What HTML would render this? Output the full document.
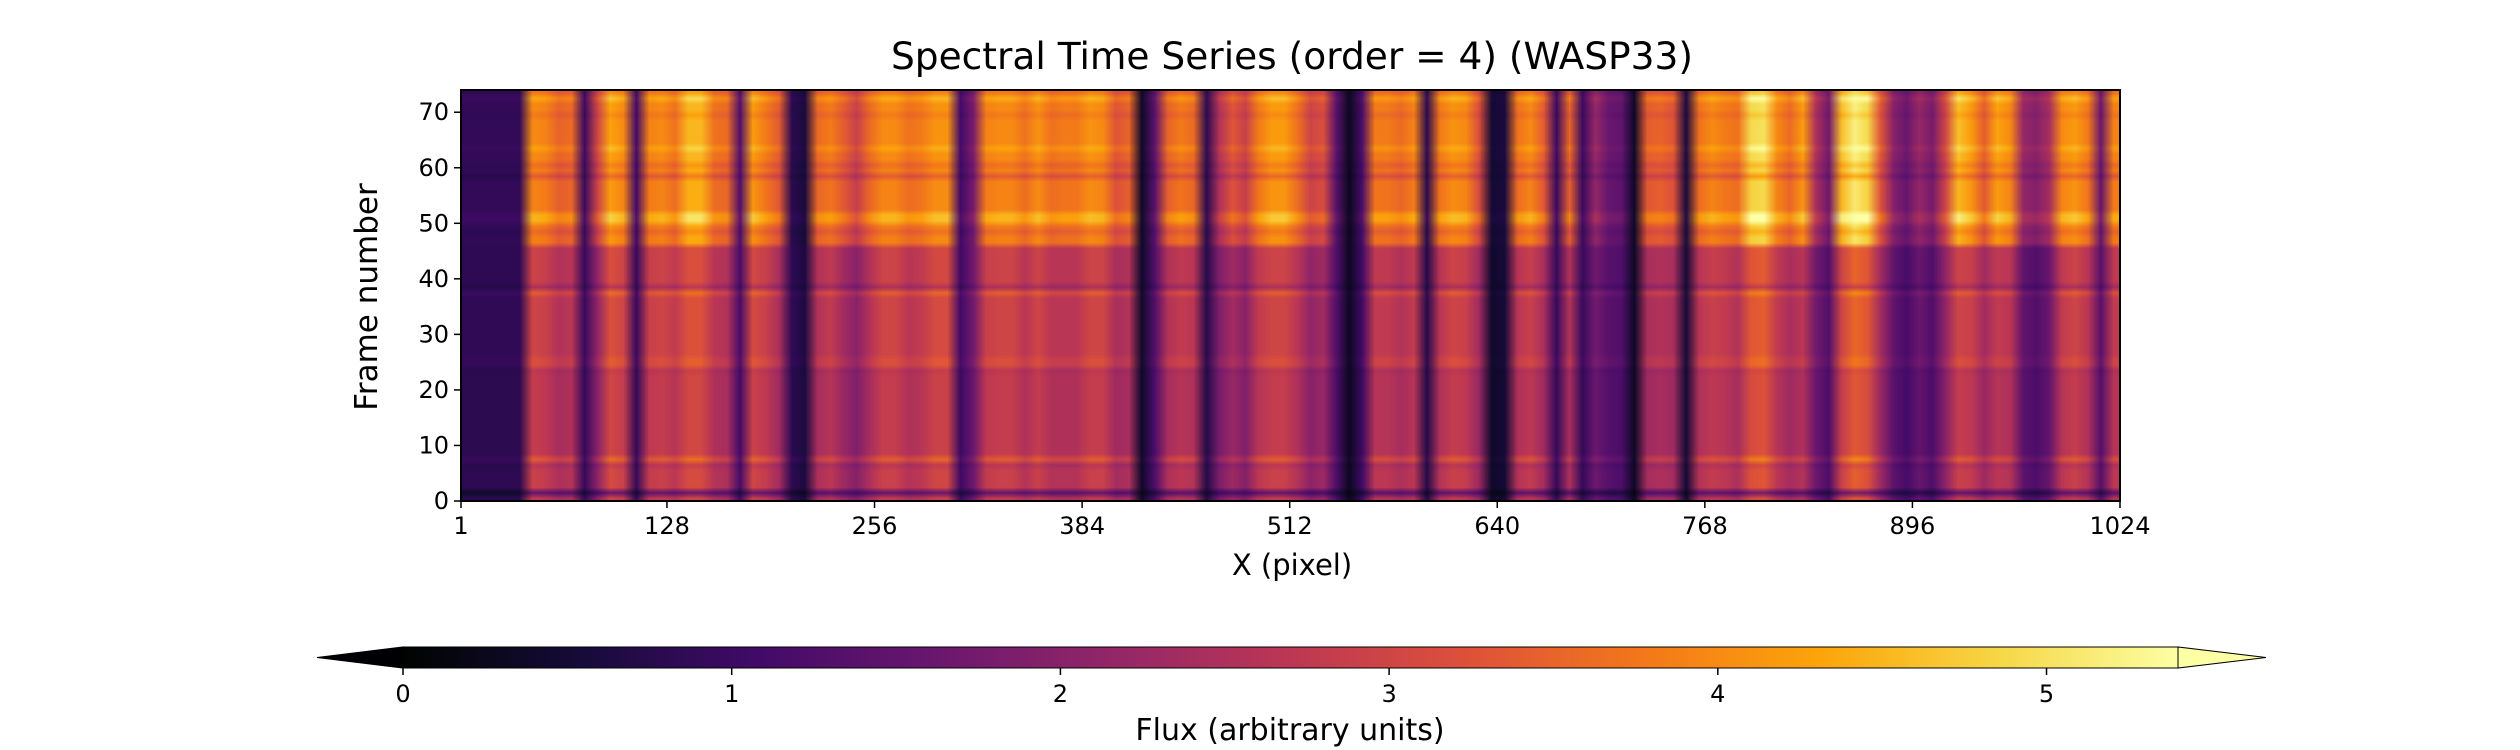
<!DOCTYPE html>
<html><head><meta charset="utf-8"><style>
body{margin:0;background:#fff;width:2520px;height:750px;overflow:hidden;font-family:"DejaVu Sans","Liberation Sans",sans-serif}
#wrap{position:relative;width:2520px;height:750px}
canvas#hm{position:absolute;left:461px;top:90px;width:1659px;height:411px}
svg{position:absolute;left:0;top:0}
</style></head><body>
<div id="wrap">
<canvas id="hm" width="128" height="74"></canvas>
<svg id="svg" width="2520" height="750">
<defs><linearGradient id="cmapgrad" x1="0" x2="1" y1="0" y2="0"></linearGradient></defs>
<text x="1292" y="69" font-size="37.5" text-anchor="middle">Spectral Time Series (order = 4) (WASP33)</text>
<text x="1292" y="575" font-size="29" text-anchor="middle">X (pixel)</text>
<text transform="translate(377,297) rotate(-90)" font-size="31" text-anchor="middle">Frame number</text>
<text x="1290" y="740" font-size="30" text-anchor="middle">Flux (arbitrary units)</text>
<g id="axes"></g>
</svg>
</div>
<script>
const fluxLow=[0.8,0.8,0.8,0.8,0.8,2.8,2.7,2.4,2.5,0.9,2.0,3.0,2.8,0.9,2.7,2.8,2.6,3.0,3.0,2.5,2.4,1.1,2.9,2.7,2.3,0.8,0.6,2.4,2.6,2.2,1.9,2.4,2.8,2.8,2.5,2.6,2.9,2.9,1.0,1.6,2.7,2.8,2.8,
2.5,2.8,2.5,2.5,2.5,2.8,2.8,2.3,2.4,0.4,1.2,2.4,2.6,2.5,0.7,1.8,2.2,1.9,2.6,2.8,2.8,2.5,2.0,2.2,1.2,0.3,1.0,2.6,2.6,2.4,2.6,0.7,2.5,2.8,2.7,2.2,0.4,0.5,2.5,2.7,2.3,0.9,2.4,
0.9,1.6,1.3,1.2,0.35,2.3,2.4,2.3,0.5,2.5,2.7,2.6,2.4,3.1,3.2,2.6,2.3,2.5,1.6,1.2,2.8,3.3,3.1,2.2,1.4,1.1,1.5,1.2,2.0,2.8,2.7,2.2,2.6,2.5,1.4,1.2,1.5,2.6,2.8,2.5,1.3,2.6];
const fluxHigh=[0.9,0.9,0.9,0.9,0.9,4.0,3.9,3.5,3.6,1.0,3.0,4.3,4.0,1.1,3.9,4.0,3.7,4.5,4.5,3.7,3.6,1.3,4.2,3.8,3.4,0.8,0.6,3.6,3.8,3.4,2.9,3.6,4.0,4.0,3.7,3.8,4.1,4.1,1.1,1.8,3.9,4.0,4.0,
3.7,4.1,3.7,3.8,3.8,4.1,4.0,3.3,3.5,0.4,1.4,3.5,3.8,3.6,0.8,2.6,3.3,2.9,3.8,4.2,4.2,3.7,3.0,3.2,1.4,0.3,1.2,3.8,3.8,3.6,3.9,0.8,3.8,4.1,4.0,3.2,0.5,0.6,3.7,4.0,3.4,1.0,3.5,
1.0,2.2,1.6,1.5,0.4,3.4,3.5,3.3,0.6,3.7,4.0,3.8,3.7,4.9,5.0,4.0,3.6,4.2,2.5,1.7,4.6,5.2,4.9,3.3,2.0,1.6,2.2,1.8,3.0,4.6,4.2,3.4,4.3,4.0,2.2,2.0,2.4,4.0,4.2,3.8,1.6,3.9];
const rowGain=[1.0,0.55,1.04,1.04,1.04,1.04,0.96,1.22,1.01,1.01,1.01,1.01,1.01,1.01,1.01,1.01,1.01,1.01,1.01,1.01,1.01,1.01,1.01,0.97,1.14,1.14,1.07,1.07,1.07,1.07,1.07,1.07,1.07,1.07,1.07,1.07,1.07,1.22,0.9,1.06,1.06,1.06,1.06,1.06,1.06,1.06,
0.97,0.97,0.9,0.97,1.12,1.12,0.98,0.98,0.98,0.98,0.98,0.98,0.85,0.98,0.92,1.0,1.0,1.08,1.0,1.0,1.0,1.0,1.0,0.95,1.0,1.0,1.1,0.95];
const highStartRow=46;
const xTicks=[1,128,256,384,512,640,768,896,1024];
const yTicks=[0,10,20,30,40,50,60,70];
const cbTicks=[0,1,2,3,4,5];
const vmin=0,vmax=5.4,nPix=1024,nRows=74;

const PL=461,PR=2120,PT=90,PB=501;
const xScale=p=>PL+(p-1)/(nPix-1)*(PR-PL);
const yScale=v=>PB-v/nRows*(PB-PT);
const CBL=403,CBR=2178,CBT=647,CBB=668;
const cbScale=v=>CBL+(v-vmin)/(vmax-vmin)*(CBR-CBL);

const stops=[[0,4,0],[22,11,57],[66,10,104],[106,23,110],[147,38,103],[188,55,84],[221,81,58],[243,120,25],[252,165,10],[246,215,70],[252,255,164]];
function inferno(t){t=Math.max(0,Math.min(1,t));const f=t*10,i=Math.min(9,Math.floor(f)),r=f-i;const a=stops[i],b=stops[i+1];return [0,1,2].map(k=>Math.round(a[k]+(b[k]-a[k])*r));}

const cv=document.getElementById('hm'),ctx=cv.getContext('2d');
const img=ctx.createImageData(128,nRows);
for(let r=0;r<nRows;r++){const src=r>=highStartRow?fluxHigh:fluxLow;
 for(let c=0;c<128;c++){const v=src[c]*rowGain[r];const col=inferno((v-vmin)/(vmax-vmin));const o=((nRows-1-r)*128+c)*4;
 img.data[o]=col[0];img.data[o+1]=col[1];img.data[o+2]=col[2];img.data[o+3]=255;}}
ctx.putImageData(img,0,0);

const NS='http://www.w3.org/2000/svg';
const ax=document.getElementById('axes');
function mk(t,attrs,parent){const e=document.createElementNS(NS,t);for(const k in attrs)e.setAttribute(k,attrs[k]);(parent||ax).appendChild(e);return e;}
let fr=mk('rect',{x:PL,y:PT,width:PR-PL,height:PB-PT,fill:'none',stroke:'#000','stroke-width':2});


xTicks.forEach(p=>{const x=xScale(p);
 const l=mk('line',{x1:x,x2:x,y1:PB,y2:PB+7,stroke:'#000','stroke-width':1.5});
 
 
 const t=mk('text',{x:x,y:PB+33,'font-size':24,'text-anchor':'middle'});t.textContent=p;
 
 });
yTicks.forEach(v=>{const y=yScale(v);
 const l=mk('line',{x1:PL-7,x2:PL,y1:y,y2:y,stroke:'#000','stroke-width':1.5});
 
 
 const t=mk('text',{x:PL-12,y:y+8,'font-size':24,'text-anchor':'end'});t.textContent=v;
 
 });
const g=document.getElementById('cmapgrad');
for(let i=0;i<=20;i++){const c=inferno(i/20);const s=document.createElementNS(NS,'stop');s.setAttribute('offset',(i*5)+'%');s.setAttribute('stop-color','rgb('+c.join(',')+')');g.appendChild(s);}
const cm=(CBT+CBB)/2;
let lt=mk('polygon',{points:`${CBL},${CBT} ${CBL},${CBB} 317,${cm}`,fill:'rgb(0,0,4)',stroke:'#000','stroke-width':1});


let rt=mk('polygon',{points:`${CBR},${CBT} ${CBR},${CBB} 2266,${cm}`,fill:'rgb(252,255,164)',stroke:'#000','stroke-width':1});


let cb=mk('rect',{x:CBL,y:CBT,width:CBR-CBL,height:CBB-CBT,fill:'url(#cmapgrad)',stroke:'#000','stroke-width':1});


cbTicks.forEach(v=>{const x=cbScale(v);
 const l=mk('line',{x1:x,x2:x,y1:CBB,y2:CBB+7,stroke:'#000','stroke-width':1.5});
 
 
 const t=mk('text',{x:x,y:CBB+34,'font-size':24,'text-anchor':'middle'});t.textContent=v;
 
 });
</script>
</body></html>
